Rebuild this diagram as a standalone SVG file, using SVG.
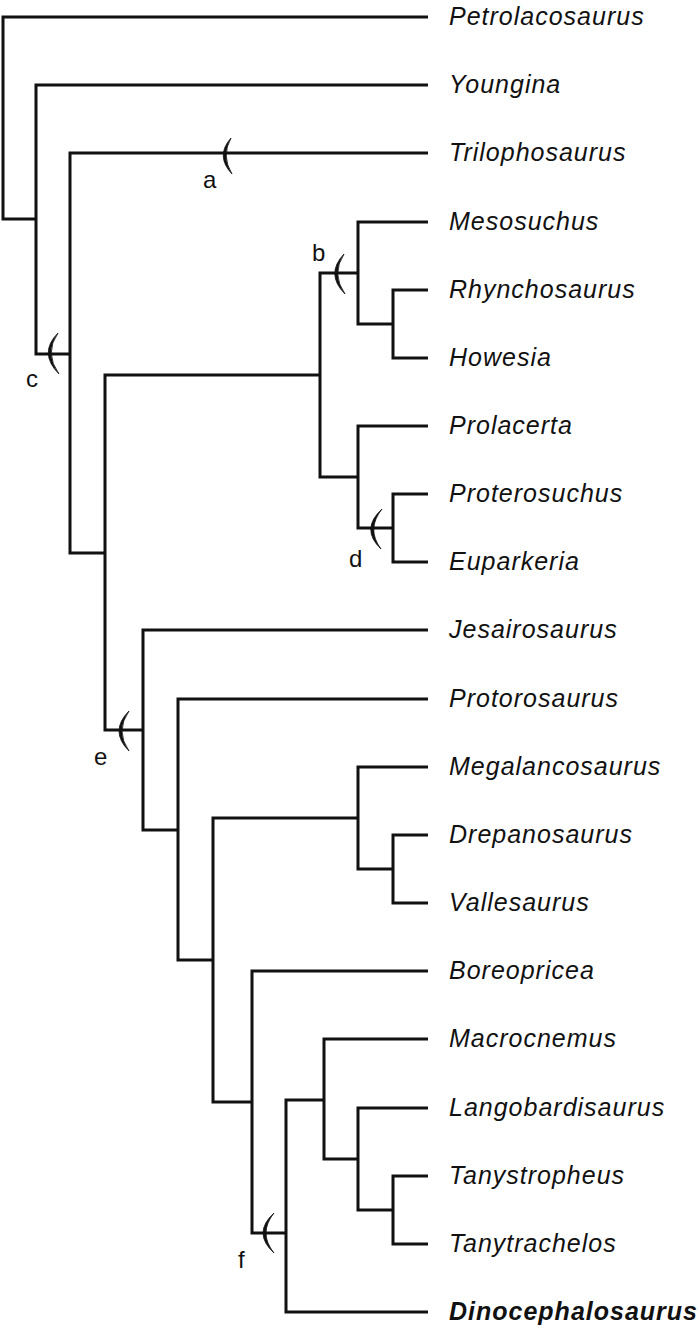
<svg xmlns="http://www.w3.org/2000/svg" width="700" height="1330" viewBox="0 0 700 1330">
<style>
.br{fill:none;stroke:#111;stroke-width:3;stroke-linejoin:miter;stroke-linecap:butt}
.arc{fill:#111;stroke:#111;stroke-width:0.8}
.tx{font-family:"Liberation Sans",Arial,sans-serif;font-style:italic;font-size:25px;letter-spacing:1px;fill:#111}
.bold{font-weight:bold}
.lb{font-family:"Liberation Sans",Arial,sans-serif;font-size:24px;fill:#111}
</style>
<rect width="700" height="1330" fill="#fff"/>
<g id="connectors">
<path class="br" d="M428 17 H3 V219 H36"/>
<path class="br" d="M428 85 H36 V354 H70"/>
<path class="br" d="M428 153 H70 V553 H105"/>
<path class="br" d="M320 375 H105 V730 H143"/>
<path class="br" d="M358 273 H320 V477 H358"/>
<path class="br" d="M428 222 H358 V324 H393"/>
<path class="br" d="M428 290 H393 V358 H428"/>
<path class="br" d="M428 426 H358 V528 H393"/>
<path class="br" d="M428 494 H393 V562 H428"/>
<path class="br" d="M428 630 H143 V830 H178"/>
<path class="br" d="M428 699 H178 V960 H213"/>
<path class="br" d="M358 818 H213 V1102 H252"/>
<path class="br" d="M428 767 H358 V869 H393"/>
<path class="br" d="M428 835 H393 V903 H428"/>
<path class="br" d="M428 971 H252 V1233 H286"/>
<path class="br" d="M324 1100 H286 V1312 H428"/>
<path class="br" d="M428 1039 H324 V1159 H358"/>
<path class="br" d="M428 1108 H358 V1210 H393"/>
<path class="br" d="M428 1176 H393 V1244 H428"/>
</g>
<g id="synapomorphies">
<path class="arc" d="M231 138 Q215 156 232 174 Q221 156 231 138 Z"/>
<path class="arc" d="M344 254 Q325 274 345 294 Q331 274 344 254 Z"/>
<path class="arc" d="M58 333 Q38 353 59 374 Q44 353 58 333 Z"/>
<path class="arc" d="M382 509 Q360 529 381 549 Q366 529 382 509 Z"/>
<path class="arc" d="M129 711 Q109 731 129 751 Q115 731 129 711 Z"/>
<path class="arc" d="M274 1213 Q252 1233 274 1253 Q258 1233 274 1213 Z"/>
<text class="lb" x="203" y="188">a</text>
<text class="lb" x="312" y="261">b</text>
<text class="lb" x="26" y="387">c</text>
<text class="lb" x="349" y="567">d</text>
<text class="lb" x="94" y="765">e</text>
<text class="lb" x="238" y="1268">f</text>
</g>
<g id="taxon-petrolacosaurus"><text class="tx" x="449" y="25">Petrolacosaurus</text></g>
<g id="taxon-youngina"><text class="tx" x="449" y="93">Youngina</text></g>
<g id="taxon-trilophosaurus"><text class="tx" x="449" y="161">Trilophosaurus</text></g>
<g id="taxon-mesosuchus"><text class="tx" x="449" y="230">Mesosuchus</text></g>
<g id="taxon-rhynchosaurus"><text class="tx" x="449" y="298">Rhynchosaurus</text></g>
<g id="taxon-howesia"><text class="tx" x="449" y="366">Howesia</text></g>
<g id="taxon-prolacerta"><text class="tx" x="449" y="434">Prolacerta</text></g>
<g id="taxon-proterosuchus"><text class="tx" x="449" y="502">Proterosuchus</text></g>
<g id="taxon-euparkeria"><text class="tx" x="449" y="570">Euparkeria</text></g>
<g id="taxon-jesairosaurus"><text class="tx" x="449" y="638">Jesairosaurus</text></g>
<g id="taxon-protorosaurus"><text class="tx" x="449" y="707">Protorosaurus</text></g>
<g id="taxon-megalancosaurus"><text class="tx" x="449" y="775">Megalancosaurus</text></g>
<g id="taxon-drepanosaurus"><text class="tx" x="449" y="843">Drepanosaurus</text></g>
<g id="taxon-vallesaurus"><text class="tx" x="449" y="911">Vallesaurus</text></g>
<g id="taxon-boreopricea"><text class="tx" x="449" y="979">Boreopricea</text></g>
<g id="taxon-macrocnemus"><text class="tx" x="449" y="1047">Macrocnemus</text></g>
<g id="taxon-langobardisaurus"><text class="tx" x="449" y="1116">Langobardisaurus</text></g>
<g id="taxon-tanystropheus"><text class="tx" x="449" y="1184">Tanystropheus</text></g>
<g id="taxon-tanytrachelos"><text class="tx" x="449" y="1252">Tanytrachelos</text></g>
<g id="taxon-dinocephalosaurus"><text class="tx bold" x="449" y="1320" letter-spacing="0.8">Dinocephalosaurus</text></g>
</svg>
